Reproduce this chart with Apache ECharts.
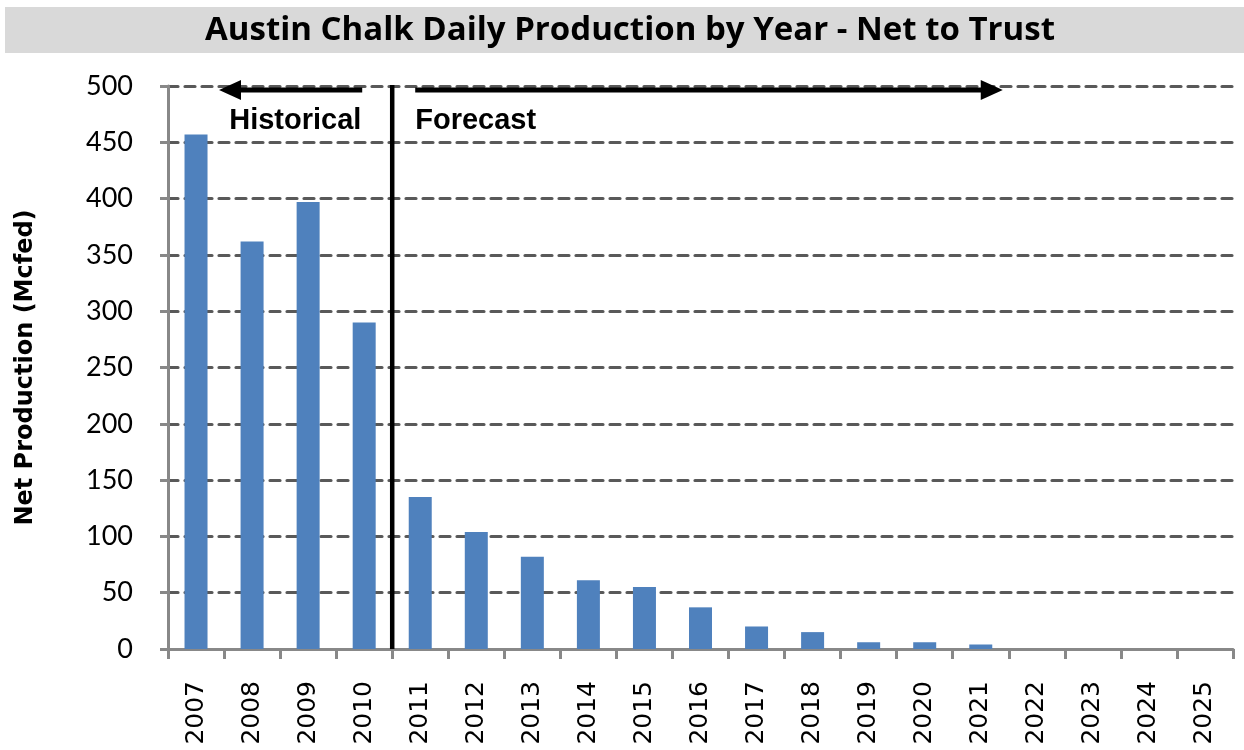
<!DOCTYPE html>
<html>
<head>
<meta charset="utf-8">
<title>Austin Chalk Daily Production by Year - Net to Trust</title>
<script src="https://cdn.jsdelivr.net/npm/echarts@6/dist/echarts.min.js"></script>
<style>
  html, body { margin: 0; padding: 0; background: #ffffff; }
  #chart { width: 1244px; height: 750px; }
</style>
</head>
<body>
<div id="chart"></div>
<script>
// Years on the category axis
const years = ['2007', '2008', '2009', '2010', '2011', '2012', '2013', '2014', '2015',
  '2016', '2017', '2018', '2019', '2020', '2021', '2022', '2023', '2024', '2025'];
// Net daily production to the trust, Mcfed
const netProduction = [457, 362, 397, 290, 135, 104, 82, 61, 55, 37, 20, 15, 6, 6, 4, 0, 0, 0, 0];
// Value axis range
const yMin = 0;
const yMax = 500;
const yStep = 50;
// Last historical year; forecast starts after it
const lastHistoricalYear = '2010';
const forecastArrowEndYear = '2021';

const titleText = 'Austin Chalk Daily Production by Year - Net to Trust';
const yAxisTitle = 'Net Production (Mcfed)';

const AXIS_GRAY = '#888888';
const GRID_GRAY = '#595959';
const BAR_BLUE = '#4f81bd';

const chart = echarts.init(document.getElementById('chart'), null, { renderer: 'canvas' });

chart.setOption({
  backgroundColor: '#ffffff',
  animation: false,
  grid: { left: 168, right: 11, top: 86, bottom: 101, containLabel: false },
  xAxis: {
    type: 'category',
    data: years,
    boundaryGap: true,
    axisLine: { show: true, lineStyle: { color: AXIS_GRAY, width: 3 } },
    axisTick: { show: true, length: 10, alignWithLabel: false, interval: 0,
      lineStyle: { color: AXIS_GRAY, width: 3 } },
    axisLabel: { rotate: 90, margin: 32, interval: 0, color: '#000000',
      fontFamily: 'DejaVu Sans', fontSize: 25 },
    splitLine: { show: false }
  },
  yAxis: {
    type: 'value',
    min: yMin,
    max: yMax,
    interval: yStep,
    name: yAxisTitle,
    nameLocation: 'middle',
    nameGap: 130,
    nameRotate: 90,
    nameTextStyle: { color: '#000000', fontFamily: 'DejaVu Sans', fontWeight: 'bold', fontSize: 24 },
    axisLine: { show: true, lineStyle: { color: AXIS_GRAY, width: 3 } },
    axisTick: { show: true, length: 8, lineStyle: { color: AXIS_GRAY, width: 3 } },
    axisLabel: { margin: 35, color: '#000000', fontFamily: 'Lato', fontSize: 27 },
    splitLine: { show: true, lineStyle: { color: GRID_GRAY, width: 3.2, type: [10, 7], cap: 'round' } }
  },
  series: [{
    type: 'bar',
    data: netProduction,
    barWidth: 23,
    itemStyle: { color: BAR_BLUE },
    z: 2
  }]
});

// Annotations: title banner, historical/forecast divider and arrows
function drawAnnotations() {
  const xAt = (cat) => chart.convertToPixel({ xAxisIndex: 0 }, cat);
  const yAt = (v) => chart.convertToPixel({ yAxisIndex: 0 }, v);
  const band = xAt(years[1]) - xAt(years[0]);
  const divider = xAt(lastHistoricalYear) + band / 2;
  const yTop = yAt(yMax);
  const yBottom = yAt(yMin);
  const arrowY = yTop + 4;
  const headLen = 22;
  const headHalf = 10;

  const leftTip = xAt(years[0]) + 23;
  const leftTail = divider - 30;
  const rightTail = divider + 23;
  const rightTip = xAt(forecastArrowEndYear) + 22;

  const black = '#000000';
  chart.setOption({
    graphic: [
      { type: 'rect', shape: { x: 5, y: 7, width: 1239, height: 46 },
        style: { fill: '#d9d9d9' }, z: 0, silent: true },
      { type: 'text', x: 630, y: 31,
        style: { text: titleText, fill: black, font: 'bold 33px "Open Sans"',
          align: 'center', verticalAlign: 'middle' }, z: 10, silent: true },
      // divider between historical and forecast years
      { type: 'line', shape: { x1: divider, y1: yTop - 1, x2: divider, y2: yBottom },
        style: { stroke: black, lineWidth: 4.5 }, z: 20, silent: true },
      // historical arrow (points left)
      { type: 'line', shape: { x1: leftTail, y1: arrowY, x2: leftTip + headLen - 2, y2: arrowY },
        style: { stroke: black, lineWidth: 5 }, z: 20, silent: true },
      { type: 'polygon', shape: { points: [[leftTip, arrowY], [leftTip + headLen, arrowY - headHalf], [leftTip + headLen, arrowY + headHalf]] },
        style: { fill: black }, z: 20, silent: true },
      // forecast arrow (points right)
      { type: 'line', shape: { x1: rightTail, y1: arrowY, x2: rightTip - headLen + 2, y2: arrowY },
        style: { stroke: black, lineWidth: 5 }, z: 20, silent: true },
      { type: 'polygon', shape: { points: [[rightTip, arrowY], [rightTip - headLen, arrowY - headHalf], [rightTip - headLen, arrowY + headHalf]] },
        style: { fill: black }, z: 20, silent: true },
      { type: 'text', x: divider - 163, y: yTop + 35,
        style: { text: 'Historical', fill: black, font: 'bold 29px "Liberation Sans"',
          align: 'left', verticalAlign: 'middle' }, z: 20, silent: true },
      { type: 'text', x: divider + 23, y: yTop + 35,
        style: { text: 'Forecast', fill: black, font: 'bold 29px "Liberation Sans"',
          align: 'left', verticalAlign: 'middle' }, z: 20, silent: true }
    ]
  });
}
drawAnnotations();
</script>
</body>
</html>
